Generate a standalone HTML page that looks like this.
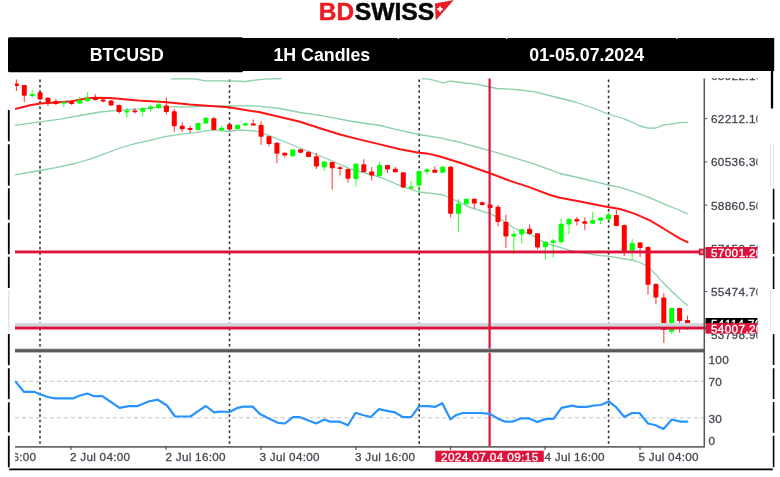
<!DOCTYPE html>
<html><head><meta charset="utf-8"><title>BTCUSD 1H</title>
<style>
html,body{margin:0;padding:0;background:#fff;}
body{width:780px;height:477px;overflow:hidden;position:relative;font-family:"Liberation Sans",sans-serif;}
svg{position:absolute;left:0;top:0;display:block}
text{font-family:"Liberation Sans",sans-serif;}
.ax{font-size:11.8px;letter-spacing:0.3px;fill:#474752;stroke:#474752;stroke-width:0.3px;}
.xt{font-size:11.7px;letter-spacing:0.28px;fill:#474752;stroke:#474752;stroke-width:0.3px;}
.hd{font-size:17.8px;font-weight:bold;fill:#fff;}
</style></head><body>
<svg width="780" height="477" viewBox="0 0 780 477">
<defs>
<clipPath id="plot"><rect x="15" y="78" width="689" height="272"/></clipPath>
<clipPath id="lab"><rect x="705" y="78" width="52.5" height="265"/></clipPath>
<clipPath id="xl"><rect x="15" y="447" width="700" height="20"/></clipPath>
</defs>

<g style="font-weight:700;font-size:23.8px" stroke-width="0.5">
<text x="318.8" y="19.8" fill="#ec1c24" stroke="#ec1c24" textLength="35.2" lengthAdjust="spacingAndGlyphs">BD</text>
<text x="354.7" y="19.8" fill="#050505" stroke="#050505" textLength="79.6" lengthAdjust="spacingAndGlyphs">SWISS</text>
</g>
<path d="M435 3.4 L453.8 0 L435.7 20.4 Z" fill="#ec1c24"/>
<path d="M439.1 6.5h1.9v1.8h1.8v1.9h-1.8v1.8h-1.9v-1.8h-1.8v-1.9h1.8z" fill="#fff"/>
<rect x="8" y="37.3" width="235" height="35" rx="1.5" fill="#000"/>
<rect x="242" y="38" width="532.2" height="33" fill="#000"/>
<rect x="397.7" y="37.6" width="1.2" height="1.3" fill="#fff"/>
<rect x="506.09999999999997" y="37.6" width="1.2" height="1.3" fill="#fff"/>
<rect x="676.1999999999999" y="37.6" width="1.2" height="1.3" fill="#fff"/>
<text class="hd" x="126.7" y="60.9" text-anchor="middle">BTCUSD</text>
<text class="hd" x="321.8" y="60.9" text-anchor="middle">1H Candles</text>
<text class="hd" x="586.7" y="60.9" text-anchor="middle">01-05.07.2024</text>
<line x1="8.8" y1="110" x2="8.8" y2="141.3" stroke="#000" stroke-width="1.8"/>
<line x1="8.8" y1="144.3" x2="8.8" y2="185.7" stroke="#000" stroke-width="1.8"/>
<line x1="8.8" y1="188.2" x2="8.8" y2="219.7" stroke="#000" stroke-width="1.8"/>
<line x1="8.8" y1="222.8" x2="8.8" y2="254.2" stroke="#000" stroke-width="1.8"/>
<line x1="8.8" y1="256.8" x2="8.8" y2="288" stroke="#000" stroke-width="1.8"/>
<line x1="8.8" y1="334" x2="8.8" y2="365.2" stroke="#000" stroke-width="1.8"/>
<line x1="8.8" y1="368.3" x2="8.8" y2="399.1" stroke="#000" stroke-width="1.8"/>
<line x1="8.8" y1="402.3" x2="8.8" y2="432.4" stroke="#000" stroke-width="1.8"/>
<line x1="8.8" y1="435.8" x2="8.8" y2="467.3" stroke="#000" stroke-width="1.8"/>
<line x1="8.8" y1="290" x2="8.8" y2="331.5" stroke="#dcdcdc" stroke-width="1.2"/>
<line x1="772" y1="71" x2="772" y2="108.5" stroke="#000" stroke-width="2.3"/>
<line x1="773.6" y1="188.8" x2="773.6" y2="219.4" stroke="#000" stroke-width="1.6"/>
<line x1="773.6" y1="222.5" x2="773.6" y2="253.9" stroke="#000" stroke-width="1.6"/>
<line x1="773.6" y1="256.4" x2="773.6" y2="289" stroke="#000" stroke-width="1.6"/>
<line x1="773.6" y1="334" x2="773.6" y2="365" stroke="#000" stroke-width="1.6"/>
<line x1="773.6" y1="368.2" x2="773.6" y2="399" stroke="#000" stroke-width="1.6"/>
<line x1="773.6" y1="402" x2="773.6" y2="432.8" stroke="#000" stroke-width="1.6"/>
<line x1="773.6" y1="435.8" x2="773.6" y2="467.2" stroke="#000" stroke-width="1.6"/>
<line x1="770.4" y1="144.3" x2="770.4" y2="186.5" stroke="#dedede" stroke-width="1"/>
<line x1="773.4" y1="144.3" x2="773.4" y2="186.5" stroke="#dedede" stroke-width="1"/>
<line x1="770.6" y1="290" x2="770.6" y2="331.8" stroke="#dedede" stroke-width="1"/>
<line x1="9.2" y1="469.3" x2="772.8" y2="469.3" stroke="#000" stroke-width="1.7"/>
<line x1="40" y1="79.5" x2="40" y2="446" stroke="#333" stroke-width="1.6" stroke-dasharray="2.5 2.9"/>
<line x1="229.5" y1="79.5" x2="229.5" y2="446" stroke="#333" stroke-width="1.6" stroke-dasharray="2.5 2.9"/>
<line x1="419.2" y1="79.5" x2="419.2" y2="446" stroke="#333" stroke-width="1.6" stroke-dasharray="2.5 2.9"/>
<line x1="608.6" y1="79.5" x2="608.6" y2="446" stroke="#333" stroke-width="1.6" stroke-dasharray="2.5 2.9"/>
<line x1="15" y1="381.3" x2="704" y2="381.3" stroke="#c4c4c4" stroke-width="1" stroke-dasharray="4 3"/>
<line x1="15" y1="417.8" x2="704" y2="417.8" stroke="#c4c4c4" stroke-width="1" stroke-dasharray="4 3"/>
<g clip-path="url(#plot)">
<polyline points="171.5,78.8 195.0,78.8 205.0,80.8 229.0,80.8 245.0,81.5 255.0,80.2 265.0,79.2 273.0,78.8 281.0,78.6" fill="none" stroke="#8ad0a9" stroke-width="1.3" stroke-linejoin="round" stroke-linecap="round"/>
<polyline points="422.0,78.8 428.0,78.8 436.0,80.8 443.0,82.8 450.0,81.2 458.0,82.0 465.0,83.0 475.0,83.8 490.0,87.0 497.0,88.5 510.0,89.2 520.0,90.0 535.0,91.8 555.0,97.0 575.0,102.0 593.0,108.0 608.0,114.0 618.0,117.0 625.0,119.2 640.0,126.0 648.0,128.2 656.0,128.0 663.0,125.2 672.0,123.8 680.0,122.6 687.5,122.3" fill="none" stroke="#8ad0a9" stroke-width="1.3" stroke-linejoin="round" stroke-linecap="round"/>
<polyline points="15.0,125.4 40.0,121.8 60.0,119.2 80.0,115.5 100.0,112.0 120.0,110.2 138.0,109.2 165.0,106.8 190.0,106.8 210.0,106.0 229.0,105.9 255.0,105.9 270.0,107.3 280.0,108.5 300.0,112.5 320.0,115.3 350.0,121.0 380.0,125.5 400.0,130.3 419.0,134.5 440.0,137.9 460.0,142.4 480.0,148.0 490.0,150.7 510.0,156.6 530.0,162.6 550.0,169.6 560.0,173.5 580.0,178.0 600.0,182.9 608.0,185.0 620.0,187.4 635.0,192.2 650.0,197.8 665.0,204.4 680.0,210.5 687.5,213.9" fill="none" stroke="#8ad0a9" stroke-width="1.3" stroke-linejoin="round" stroke-linecap="round"/>
<polyline points="15.0,174.8 40.0,170.5 56.0,167.7 75.0,163.5 90.0,159.2 105.0,153.6 120.0,148.0 135.0,143.7 150.0,140.3 165.0,136.7 180.0,134.4 195.0,132.6 205.0,130.8 215.0,129.8 222.0,130.8 229.0,131.5 240.0,129.8 255.0,131.0 262.0,133.0 270.0,135.9 285.0,142.0 300.0,148.0 315.0,154.0 330.0,160.0 350.0,168.8 365.0,173.0 380.0,177.2 395.0,183.5 403.0,186.8 419.0,192.0 430.0,193.2 443.0,195.0 450.0,198.0 458.0,201.5 470.0,207.3 490.0,213.7 500.0,218.6 505.0,222.5 515.0,228.5 530.0,234.2 545.0,243.0 560.0,247.4 570.0,250.3 585.0,253.2 600.0,255.6 608.0,256.2 625.0,259.0 633.0,260.4 640.0,262.5 645.0,265.0 650.0,268.6 655.0,273.6 660.0,279.4 666.0,285.5 672.0,291.6 680.0,299.0 687.5,305.4" fill="none" stroke="#8ad0a9" stroke-width="1.3" stroke-linejoin="round" stroke-linecap="round"/>
<polyline points="15.0,109.0 30.0,105.2 40.0,103.5 56.0,102.6 72.0,101.3 87.0,98.2 95.0,97.8 110.0,98.0 138.0,100.6 164.0,102.0 190.0,104.6 200.0,105.3 229.0,107.2 260.0,112.3 280.0,117.0 300.0,121.8 320.0,128.3 340.0,134.5 360.0,139.6 380.0,144.4 400.0,149.2 419.0,152.8 427.0,153.4 440.0,156.5 460.0,162.7 480.0,169.8 490.0,173.2 510.0,180.9 530.0,187.4 550.0,195.0 560.0,197.8 580.0,201.5 600.0,205.4 608.0,207.0 620.0,209.0 635.0,213.9 650.0,220.4 665.0,229.5 680.0,238.6 687.5,242.2" fill="none" stroke="#ff1414" stroke-width="2.0" stroke-linejoin="round" stroke-linecap="round"/>
<line x1="16.4" y1="79.5" x2="16.4" y2="91" stroke="#ff0000" stroke-width="1.1" stroke-opacity="0.75"/>
<rect x="13.9" y="83.5" width="5" height="2.5" fill="#ff0000" rx="0.8"/>
<line x1="24.3" y1="85" x2="24.3" y2="102" stroke="#ff0000" stroke-width="1.1" stroke-opacity="0.75"/>
<rect x="21.8" y="85" width="5" height="10.8" fill="#ff0000" rx="0.8"/>
<line x1="32.2" y1="90" x2="32.2" y2="97.8" stroke="#00ff00" stroke-width="1.1" stroke-opacity="0.75"/>
<rect x="29.7" y="94" width="5" height="2.0" fill="#00ff00" rx="0.8"/>
<line x1="40.1" y1="92.3" x2="40.1" y2="100" stroke="#ff0000" stroke-width="1.1" stroke-opacity="0.75"/>
<rect x="37.6" y="92.3" width="5" height="7.1" fill="#ff0000" rx="0.8"/>
<line x1="48.0" y1="97" x2="48.0" y2="106" stroke="#ff0000" stroke-width="1.1" stroke-opacity="0.75"/>
<rect x="45.5" y="97.8" width="5" height="4.2" fill="#ff0000" rx="0.8"/>
<line x1="55.9" y1="99" x2="55.9" y2="105" stroke="#ff0000" stroke-width="1.1" stroke-opacity="0.75"/>
<rect x="53.4" y="101" width="5" height="3.0" fill="#ff0000" rx="0.8"/>
<line x1="63.8" y1="101" x2="63.8" y2="107" stroke="#00ff00" stroke-width="1.1" stroke-opacity="0.75"/>
<rect x="61.3" y="101.7" width="5" height="1.8" fill="#00ff00" rx="0.8"/>
<line x1="71.7" y1="100" x2="71.7" y2="105" stroke="#ff0000" stroke-width="1.1" stroke-opacity="0.75"/>
<rect x="69.2" y="102" width="5" height="2.0" fill="#ff0000" rx="0.8"/>
<line x1="79.6" y1="96.8" x2="79.6" y2="104" stroke="#00ff00" stroke-width="1.1" stroke-opacity="0.75"/>
<rect x="77.1" y="100" width="5" height="3.5" fill="#00ff00" rx="0.8"/>
<line x1="87.5" y1="92.3" x2="87.5" y2="101.5" stroke="#00ff00" stroke-width="1.1" stroke-opacity="0.75"/>
<rect x="85.0" y="98" width="5" height="3.3" fill="#00ff00" rx="0.8"/>
<line x1="95.3" y1="94.2" x2="95.3" y2="100.5" stroke="#ff0000" stroke-width="1.1" stroke-opacity="0.75"/>
<rect x="92.8" y="97" width="5" height="3.0" fill="#ff0000" rx="0.8"/>
<line x1="103.2" y1="99" x2="103.2" y2="102.5" stroke="#ff0000" stroke-width="1.1" stroke-opacity="0.75"/>
<rect x="100.7" y="99.6" width="5" height="1.8" fill="#ff0000" rx="0.8"/>
<line x1="111.1" y1="100" x2="111.1" y2="106" stroke="#ff0000" stroke-width="1.1" stroke-opacity="0.75"/>
<rect x="108.6" y="100.6" width="5" height="4.9" fill="#ff0000" rx="0.8"/>
<line x1="119.0" y1="104.5" x2="119.0" y2="113.8" stroke="#ff0000" stroke-width="1.1" stroke-opacity="0.75"/>
<rect x="116.5" y="104.9" width="5" height="7.1" fill="#ff0000" rx="0.8"/>
<line x1="126.9" y1="108" x2="126.9" y2="117.7" stroke="#00ff00" stroke-width="1.1" stroke-opacity="0.75"/>
<rect x="124.4" y="110.6" width="5" height="1.9" fill="#00ff00" rx="0.8"/>
<line x1="134.8" y1="108" x2="134.8" y2="113.5" stroke="#ff0000" stroke-width="1.1" stroke-opacity="0.75"/>
<rect x="132.3" y="110.4" width="5" height="1.8" fill="#ff0000" rx="0.8"/>
<line x1="142.7" y1="106.8" x2="142.7" y2="116.4" stroke="#00ff00" stroke-width="1.1" stroke-opacity="0.75"/>
<rect x="140.2" y="108.3" width="5" height="3.4" fill="#00ff00" rx="0.8"/>
<line x1="150.6" y1="105" x2="150.6" y2="111.7" stroke="#00ff00" stroke-width="1.1" stroke-opacity="0.75"/>
<rect x="148.1" y="106.5" width="5" height="2.5" fill="#00ff00" rx="0.8"/>
<line x1="158.5" y1="99.7" x2="158.5" y2="109.4" stroke="#00ff00" stroke-width="1.1" stroke-opacity="0.75"/>
<rect x="156.0" y="104.2" width="5" height="3.8" fill="#00ff00" rx="0.8"/>
<line x1="166.4" y1="97.2" x2="166.4" y2="114.5" stroke="#ff0000" stroke-width="1.1" stroke-opacity="0.75"/>
<rect x="163.9" y="105.5" width="5" height="6.5" fill="#ff0000" rx="0.8"/>
<line x1="174.3" y1="108.7" x2="174.3" y2="131.8" stroke="#ff0000" stroke-width="1.1" stroke-opacity="0.75"/>
<rect x="171.8" y="111.3" width="5" height="15.0" fill="#ff0000" rx="0.8"/>
<line x1="182.2" y1="122.2" x2="182.2" y2="131.8" stroke="#ff0000" stroke-width="1.1" stroke-opacity="0.75"/>
<rect x="179.7" y="125.8" width="5" height="3.4" fill="#ff0000" rx="0.8"/>
<line x1="190.1" y1="125.8" x2="190.1" y2="133" stroke="#ff0000" stroke-width="1.1" stroke-opacity="0.75"/>
<rect x="187.6" y="128" width="5" height="2.0" fill="#ff0000" rx="0.8"/>
<line x1="198.0" y1="123" x2="198.0" y2="130" stroke="#00ff00" stroke-width="1.1" stroke-opacity="0.75"/>
<rect x="195.5" y="123" width="5" height="6.9" fill="#00ff00" rx="0.8"/>
<line x1="205.9" y1="117.5" x2="205.9" y2="124" stroke="#00ff00" stroke-width="1.1" stroke-opacity="0.75"/>
<rect x="203.4" y="117.8" width="5" height="5.7" fill="#00ff00" rx="0.8"/>
<line x1="213.8" y1="116.8" x2="213.8" y2="130" stroke="#ff0000" stroke-width="1.1" stroke-opacity="0.75"/>
<rect x="211.3" y="118.3" width="5" height="11.6" fill="#ff0000" rx="0.8"/>
<line x1="221.7" y1="125.8" x2="221.7" y2="131.5" stroke="#00ff00" stroke-width="1.1" stroke-opacity="0.75"/>
<rect x="219.2" y="127.7" width="5" height="2.6" fill="#00ff00" rx="0.8"/>
<line x1="229.6" y1="124" x2="229.6" y2="130" stroke="#ff0000" stroke-width="1.1" stroke-opacity="0.75"/>
<rect x="227.1" y="124.2" width="5" height="5.4" fill="#ff0000" rx="0.8"/>
<line x1="237.5" y1="124.5" x2="237.5" y2="129.2" stroke="#00ff00" stroke-width="1.1" stroke-opacity="0.75"/>
<rect x="235.0" y="124.7" width="5" height="4.3" fill="#00ff00" rx="0.8"/>
<line x1="245.4" y1="123" x2="245.4" y2="125.7" stroke="#00ff00" stroke-width="1.1" stroke-opacity="0.75"/>
<rect x="242.9" y="123.2" width="5" height="2.3" fill="#00ff00" rx="0.8"/>
<line x1="253.2" y1="119.6" x2="253.2" y2="125.5" stroke="#ff0000" stroke-width="1.1" stroke-opacity="0.75"/>
<rect x="250.8" y="123.5" width="5" height="2.0" fill="#ff0000" rx="0.8"/>
<line x1="261.1" y1="121.3" x2="261.1" y2="145" stroke="#ff0000" stroke-width="1.1" stroke-opacity="0.75"/>
<rect x="258.6" y="125" width="5" height="11.7" fill="#ff0000" rx="0.8"/>
<line x1="269.0" y1="136" x2="269.0" y2="146.3" stroke="#ff0000" stroke-width="1.1" stroke-opacity="0.75"/>
<rect x="266.5" y="136.3" width="5" height="7.7" fill="#ff0000" rx="0.8"/>
<line x1="276.9" y1="142.5" x2="276.9" y2="163.3" stroke="#ff0000" stroke-width="1.1" stroke-opacity="0.75"/>
<rect x="274.4" y="142.8" width="5" height="10.9" fill="#ff0000" rx="0.8"/>
<line x1="284.8" y1="152.5" x2="284.8" y2="157.6" stroke="#ff0000" stroke-width="1.1" stroke-opacity="0.75"/>
<rect x="282.3" y="152.8" width="5" height="2.8" fill="#ff0000" rx="0.8"/>
<line x1="292.7" y1="149.3" x2="292.7" y2="156.5" stroke="#00ff00" stroke-width="1.1" stroke-opacity="0.75"/>
<rect x="290.2" y="149.5" width="5" height="6.8" fill="#00ff00" rx="0.8"/>
<line x1="300.6" y1="149" x2="300.6" y2="153" stroke="#ff0000" stroke-width="1.1" stroke-opacity="0.75"/>
<rect x="298.1" y="149.2" width="5" height="3.6" fill="#ff0000" rx="0.8"/>
<line x1="308.5" y1="151.5" x2="308.5" y2="157.2" stroke="#ff0000" stroke-width="1.1" stroke-opacity="0.75"/>
<rect x="306.0" y="151.8" width="5" height="5.2" fill="#ff0000" rx="0.8"/>
<line x1="316.4" y1="153" x2="316.4" y2="169" stroke="#ff0000" stroke-width="1.1" stroke-opacity="0.75"/>
<rect x="313.9" y="156.3" width="5" height="10.2" fill="#ff0000" rx="0.8"/>
<line x1="324.3" y1="161" x2="324.3" y2="171" stroke="#00ff00" stroke-width="1.1" stroke-opacity="0.75"/>
<rect x="321.8" y="161.4" width="5" height="5.8" fill="#00ff00" rx="0.8"/>
<line x1="332.2" y1="162" x2="332.2" y2="189.5" stroke="#ff0000" stroke-width="1.1" stroke-opacity="0.75"/>
<rect x="329.7" y="162" width="5" height="6.2" fill="#ff0000" rx="0.8"/>
<line x1="340.1" y1="166" x2="340.1" y2="175.5" stroke="#ff0000" stroke-width="1.1" stroke-opacity="0.75"/>
<rect x="337.6" y="167.2" width="5" height="1.8" fill="#ff0000" rx="0.8"/>
<line x1="348.0" y1="168.5" x2="348.0" y2="182.5" stroke="#ff0000" stroke-width="1.1" stroke-opacity="0.75"/>
<rect x="345.5" y="169" width="5" height="9.7" fill="#ff0000" rx="0.8"/>
<line x1="355.9" y1="162.7" x2="355.9" y2="186.2" stroke="#00ff00" stroke-width="1.1" stroke-opacity="0.75"/>
<rect x="353.4" y="163.8" width="5" height="15.2" fill="#00ff00" rx="0.8"/>
<line x1="363.8" y1="159.2" x2="363.8" y2="172.5" stroke="#ff0000" stroke-width="1.1" stroke-opacity="0.75"/>
<rect x="361.3" y="164.2" width="5" height="7.8" fill="#ff0000" rx="0.8"/>
<line x1="371.7" y1="167" x2="371.7" y2="180.4" stroke="#ff0000" stroke-width="1.1" stroke-opacity="0.75"/>
<rect x="369.2" y="171.4" width="5" height="4.2" fill="#ff0000" rx="0.8"/>
<line x1="379.6" y1="161.8" x2="379.6" y2="177.8" stroke="#00ff00" stroke-width="1.1" stroke-opacity="0.75"/>
<rect x="377.1" y="165" width="5" height="11.0" fill="#00ff00" rx="0.8"/>
<line x1="387.5" y1="165" x2="387.5" y2="173" stroke="#ff0000" stroke-width="1.1" stroke-opacity="0.75"/>
<rect x="385.0" y="165" width="5" height="4.5" fill="#ff0000" rx="0.8"/>
<line x1="395.4" y1="167" x2="395.4" y2="172.5" stroke="#ff0000" stroke-width="1.1" stroke-opacity="0.75"/>
<rect x="392.9" y="168.8" width="5" height="3.5" fill="#ff0000" rx="0.8"/>
<line x1="403.3" y1="172" x2="403.3" y2="188" stroke="#ff0000" stroke-width="1.1" stroke-opacity="0.75"/>
<rect x="400.8" y="172.3" width="5" height="15.1" fill="#ff0000" rx="0.8"/>
<line x1="411.1" y1="181" x2="411.1" y2="189" stroke="#00ff00" stroke-width="1.1" stroke-opacity="0.75"/>
<rect x="408.6" y="186.4" width="5" height="2.1" fill="#00ff00" rx="0.8"/>
<line x1="419.0" y1="170.5" x2="419.0" y2="192.6" stroke="#00ff00" stroke-width="1.1" stroke-opacity="0.75"/>
<rect x="416.5" y="171" width="5" height="14.5" fill="#00ff00" rx="0.8"/>
<line x1="426.9" y1="168.5" x2="426.9" y2="174.4" stroke="#00ff00" stroke-width="1.1" stroke-opacity="0.75"/>
<rect x="424.4" y="169.2" width="5" height="2.8" fill="#00ff00" rx="0.8"/>
<line x1="434.8" y1="166.3" x2="434.8" y2="173" stroke="#ff0000" stroke-width="1.1" stroke-opacity="0.75"/>
<rect x="432.3" y="169.7" width="5" height="3.0" fill="#ff0000" rx="0.8"/>
<line x1="442.7" y1="166.5" x2="442.7" y2="173" stroke="#00ff00" stroke-width="1.1" stroke-opacity="0.75"/>
<rect x="440.2" y="166.7" width="5" height="6.0" fill="#00ff00" rx="0.8"/>
<line x1="450.6" y1="166" x2="450.6" y2="217.6" stroke="#ff0000" stroke-width="1.1" stroke-opacity="0.75"/>
<rect x="448.1" y="166.7" width="5" height="47.0" fill="#ff0000" rx="0.8"/>
<line x1="458.5" y1="199" x2="458.5" y2="232.3" stroke="#00ff00" stroke-width="1.1" stroke-opacity="0.75"/>
<rect x="456.0" y="203.5" width="5" height="10.2" fill="#00ff00" rx="0.8"/>
<line x1="466.4" y1="198.5" x2="466.4" y2="206" stroke="#00ff00" stroke-width="1.1" stroke-opacity="0.75"/>
<rect x="463.9" y="198.7" width="5" height="5.3" fill="#00ff00" rx="0.8"/>
<line x1="474.3" y1="198.5" x2="474.3" y2="208.6" stroke="#ff0000" stroke-width="1.1" stroke-opacity="0.75"/>
<rect x="471.8" y="198.7" width="5" height="4.8" fill="#ff0000" rx="0.8"/>
<line x1="482.2" y1="201.5" x2="482.2" y2="205.5" stroke="#ff0000" stroke-width="1.1" stroke-opacity="0.75"/>
<rect x="479.7" y="202.2" width="5" height="2.8" fill="#ff0000" rx="0.8"/>
<line x1="490.1" y1="204" x2="490.1" y2="208.3" stroke="#ff0000" stroke-width="1.1" stroke-opacity="0.75"/>
<rect x="487.6" y="204.4" width="5" height="3.6" fill="#ff0000" rx="0.8"/>
<line x1="498.0" y1="205" x2="498.0" y2="226.5" stroke="#ff0000" stroke-width="1.1" stroke-opacity="0.75"/>
<rect x="495.5" y="206.7" width="5" height="15.3" fill="#ff0000" rx="0.8"/>
<line x1="505.9" y1="214.8" x2="505.9" y2="248" stroke="#ff0000" stroke-width="1.1" stroke-opacity="0.75"/>
<rect x="503.4" y="221.8" width="5" height="14.7" fill="#ff0000" rx="0.8"/>
<line x1="513.8" y1="230.8" x2="513.8" y2="253.8" stroke="#00ff00" stroke-width="1.1" stroke-opacity="0.75"/>
<rect x="511.3" y="234" width="5" height="2.5" fill="#00ff00" rx="0.8"/>
<line x1="521.7" y1="229" x2="521.7" y2="243.5" stroke="#00ff00" stroke-width="1.1" stroke-opacity="0.75"/>
<rect x="519.2" y="229.2" width="5" height="5.3" fill="#00ff00" rx="0.8"/>
<line x1="529.6" y1="224.4" x2="529.6" y2="234.5" stroke="#ff0000" stroke-width="1.1" stroke-opacity="0.75"/>
<rect x="527.1" y="228.8" width="5" height="5.2" fill="#ff0000" rx="0.8"/>
<line x1="537.5" y1="233" x2="537.5" y2="249.4" stroke="#ff0000" stroke-width="1.1" stroke-opacity="0.75"/>
<rect x="535.0" y="233.3" width="5" height="14.1" fill="#ff0000" rx="0.8"/>
<line x1="545.4" y1="241" x2="545.4" y2="259.6" stroke="#00ff00" stroke-width="1.1" stroke-opacity="0.75"/>
<rect x="542.9" y="241.7" width="5" height="5.5" fill="#00ff00" rx="0.8"/>
<line x1="553.3" y1="239" x2="553.3" y2="257.7" stroke="#00ff00" stroke-width="1.1" stroke-opacity="0.75"/>
<rect x="550.8" y="240.4" width="5" height="2.6" fill="#00ff00" rx="0.8"/>
<line x1="561.2" y1="218.6" x2="561.2" y2="244.2" stroke="#00ff00" stroke-width="1.1" stroke-opacity="0.75"/>
<rect x="558.7" y="223.7" width="5" height="18.3" fill="#00ff00" rx="0.8"/>
<line x1="569.0" y1="218.5" x2="569.0" y2="234" stroke="#00ff00" stroke-width="1.1" stroke-opacity="0.75"/>
<rect x="566.5" y="219" width="5" height="5.6" fill="#00ff00" rx="0.8"/>
<line x1="576.9" y1="217" x2="576.9" y2="225.6" stroke="#ff0000" stroke-width="1.1" stroke-opacity="0.75"/>
<rect x="574.4" y="219" width="5" height="2.5" fill="#ff0000" rx="0.8"/>
<line x1="584.8" y1="217.3" x2="584.8" y2="230" stroke="#ff0000" stroke-width="1.1" stroke-opacity="0.75"/>
<rect x="582.3" y="221.2" width="5" height="2.5" fill="#ff0000" rx="0.8"/>
<line x1="592.7" y1="211.5" x2="592.7" y2="224" stroke="#00ff00" stroke-width="1.1" stroke-opacity="0.75"/>
<rect x="590.2" y="220" width="5" height="3.8" fill="#00ff00" rx="0.8"/>
<line x1="600.6" y1="217" x2="600.6" y2="224" stroke="#00ff00" stroke-width="1.1" stroke-opacity="0.75"/>
<rect x="598.1" y="217.4" width="5" height="3.4" fill="#00ff00" rx="0.8"/>
<line x1="608.5" y1="212.3" x2="608.5" y2="220.5" stroke="#00ff00" stroke-width="1.1" stroke-opacity="0.75"/>
<rect x="606.0" y="214.6" width="5" height="4.6" fill="#00ff00" rx="0.8"/>
<line x1="616.4" y1="210" x2="616.4" y2="226.5" stroke="#ff0000" stroke-width="1.1" stroke-opacity="0.75"/>
<rect x="613.9" y="215" width="5" height="11.0" fill="#ff0000" rx="0.8"/>
<line x1="624.3" y1="224.5" x2="624.3" y2="256" stroke="#ff0000" stroke-width="1.1" stroke-opacity="0.75"/>
<rect x="621.8" y="225" width="5" height="27.3" fill="#ff0000" rx="0.8"/>
<line x1="632.2" y1="239" x2="632.2" y2="260" stroke="#00ff00" stroke-width="1.1" stroke-opacity="0.75"/>
<rect x="629.7" y="243" width="5" height="7.8" fill="#00ff00" rx="0.8"/>
<line x1="640.1" y1="242" x2="640.1" y2="257" stroke="#ff0000" stroke-width="1.1" stroke-opacity="0.75"/>
<rect x="637.6" y="242.6" width="5" height="5.4" fill="#ff0000" rx="0.8"/>
<line x1="648.0" y1="246.5" x2="648.0" y2="294.8" stroke="#ff0000" stroke-width="1.1" stroke-opacity="0.75"/>
<rect x="645.5" y="247" width="5" height="37.8" fill="#ff0000" rx="0.8"/>
<line x1="655.9" y1="283.5" x2="655.9" y2="304" stroke="#ff0000" stroke-width="1.1" stroke-opacity="0.75"/>
<rect x="653.4" y="284" width="5" height="13.4" fill="#ff0000" rx="0.8"/>
<line x1="663.8" y1="293.3" x2="663.8" y2="343" stroke="#ff0000" stroke-width="1.1" stroke-opacity="0.75"/>
<rect x="661.3" y="297.4" width="5" height="32.6" fill="#ff0000" rx="0.8"/>
<line x1="671.7" y1="308" x2="671.7" y2="334" stroke="#00ff00" stroke-width="1.1" stroke-opacity="0.75"/>
<rect x="669.2" y="308" width="5" height="23.8" fill="#00ff00" rx="0.8"/>
<line x1="679.6" y1="307.5" x2="679.6" y2="332.6" stroke="#ff0000" stroke-width="1.1" stroke-opacity="0.75"/>
<rect x="677.1" y="308" width="5" height="13.0" fill="#ff0000" rx="0.8"/>
<line x1="687.5" y1="315.5" x2="687.5" y2="330" stroke="#ff0000" stroke-width="1.1" stroke-opacity="0.75"/>
<rect x="685.0" y="320" width="5" height="4.3" fill="#ff0000" rx="0.8"/>
</g>
<rect x="15" y="323" width="689" height="4" fill="#d2d7db"/>
<rect x="15" y="250.5" width="686" height="2.9" fill="#dc143c"/>
<rect x="15" y="326.6" width="692" height="2.9" fill="#dc143c"/>
<rect x="488.5" y="78.5" width="2.2" height="368" fill="#dc143c"/>
<rect x="698.8" y="248.6" width="6" height="6.6" fill="#dc143c"/><rect x="700.6" y="250.4" width="2.4" height="3" fill="#ef8aa0"/>
<rect x="15" y="349" width="689.5" height="3.2" fill="#5a5a5a"/>
<rect x="15" y="348.5" width="689.5" height="0.8" fill="#b0b0b0"/><rect x="15" y="352" width="689.5" height="0.8" fill="#b0b0b0"/>
<polyline points="15.8,381.9 23.8,391.8 34.2,391.8 40.0,394.2 48.0,397.0 55.0,398.3 73.5,398.3 79.2,395.8 87.3,393.5 94.2,396.2 102.3,396.2 108.0,400.0 119.6,407.8 128.8,406.2 137.0,406.2 148.5,401.5 157.7,399.7 167.0,405.5 175.0,416.5 190.4,416.5 198.5,410.8 205.8,406.0 214.2,412.4 220.4,411.5 229.6,412.0 237.7,407.8 243.5,406.6 252.7,406.6 259.6,413.8 268.8,418.4 278.0,422.8 285.0,423.5 293.0,417.2 300.0,417.2 309.2,420.7 316.2,423.5 324.2,419.5 330.0,421.6 339.2,421.6 348.0,425.3 355.6,412.8 362.7,415.0 370.8,417.0 378.8,409.2 387.0,410.8 395.0,412.4 403.0,417.2 411.2,417.2 419.2,406.2 428.5,406.2 435.4,406.8 442.3,403.2 450.4,419.3 456.2,415.0 463.0,413.0 480.4,413.0 489.6,413.8 497.7,418.4 504.6,421.6 512.7,421.6 520.8,418.4 529.2,418.4 537.3,421.9 546.5,418.9 553.5,418.9 561.5,407.8 572.0,405.7 577.7,406.8 587.0,406.8 593.8,405.5 600.8,405.0 608.8,401.5 615.8,406.8 624.3,417.0 632.0,413.0 639.5,413.0 648.0,423.5 655.0,425.0 663.5,429.0 671.8,419.5 680.4,421.6 687.3,421.6" fill="none" stroke="#2693ff" stroke-width="2.2" stroke-linejoin="round" stroke-linecap="round"/>
<line x1="704.3" y1="78.5" x2="704.3" y2="446.5" stroke="#555" stroke-width="1.5"/>
<line x1="15" y1="446.8" x2="705" y2="446.8" stroke="#6a6a6a" stroke-width="1.7"/>
<line x1="704" y1="118.7" x2="707.3" y2="118.7" stroke="#555" stroke-width="1"/>
<line x1="704" y1="161.9" x2="707.3" y2="161.9" stroke="#555" stroke-width="1"/>
<line x1="704" y1="205.1" x2="707.3" y2="205.1" stroke="#555" stroke-width="1"/>
<line x1="704" y1="248.3" x2="707.3" y2="248.3" stroke="#555" stroke-width="1"/>
<line x1="704" y1="291.5" x2="707.3" y2="291.5" stroke="#555" stroke-width="1"/>
<line x1="71" y1="446" x2="71" y2="450" stroke="#555" stroke-width="1.2"/>
<line x1="166" y1="446" x2="166" y2="450" stroke="#555" stroke-width="1.2"/>
<line x1="261" y1="446" x2="261" y2="450" stroke="#555" stroke-width="1.2"/>
<line x1="356" y1="446" x2="356" y2="450" stroke="#555" stroke-width="1.2"/>
<line x1="450.5" y1="446" x2="450.5" y2="450" stroke="#555" stroke-width="1.2"/>
<line x1="545" y1="446" x2="545" y2="450" stroke="#555" stroke-width="1.2"/>
<line x1="640" y1="446" x2="640" y2="450" stroke="#555" stroke-width="1.2"/>
<g clip-path="url(#lab)">
<text class="ax" x="711" y="80.0">63922.10</text>
<text class="ax" x="711" y="123.2">62212.10</text>
<text class="ax" x="711" y="166.4">60536.30</text>
<text class="ax" x="711" y="209.6">58860.50</text>
<text class="ax" x="711" y="252.8">57150.50</text>
<text class="ax" x="711" y="296.0">55474.70</text>
<text class="ax" x="711" y="339.2">53798.90</text>
<rect x="705.5" y="247" width="53" height="11.2" fill="#dc143c"/>
<text class="ax" x="711" y="257.2" style="fill:#fff;stroke:#fff">57001.20</text>
<rect x="705.5" y="318" width="53" height="6" fill="#000"/>
<text class="ax" x="711" y="327.5" style="fill:#fff;stroke:#fff" clip-path="url(#blk)">54114.70</text>
<rect x="705.5" y="323" width="53" height="10.6" fill="#dc143c"/>
<text class="ax" x="711" y="333" style="fill:#fff;stroke:#fff">54007.20</text>
</g>
<text class="ax" x="708.5" y="364.4">100</text>
<text class="ax" x="708.5" y="386.0">70</text>
<text class="ax" x="708.5" y="422.9">30</text>
<text class="ax" x="708.5" y="444.5">0</text>
<g clip-path="url(#xl)">
<text class="xt" x="-24" y="460.6">1 Jul 16:00</text>
<text class="xt" x="70" y="460.6">2 Jul 04:00</text>
<text class="xt" x="165.5" y="460.6">2 Jul 16:00</text>
<text class="xt" x="259.5" y="460.6">3 Jul 04:00</text>
<text class="xt" x="355" y="460.6">3 Jul 16:00</text>
<text class="xt" x="544.5" y="460.6">4 Jul 16:00</text>
<text class="xt" x="638.5" y="460.6">5 Jul 04:00</text>
<rect x="435.3" y="450.7" width="108.5" height="11.2" fill="#dc143c"/>
<text class="ax" x="441" y="460.6" style="fill:#fff;stroke:#fff" textLength="97.5" lengthAdjust="spacing">2024.07.04 09:15</text>
</g>
</svg></body></html>
